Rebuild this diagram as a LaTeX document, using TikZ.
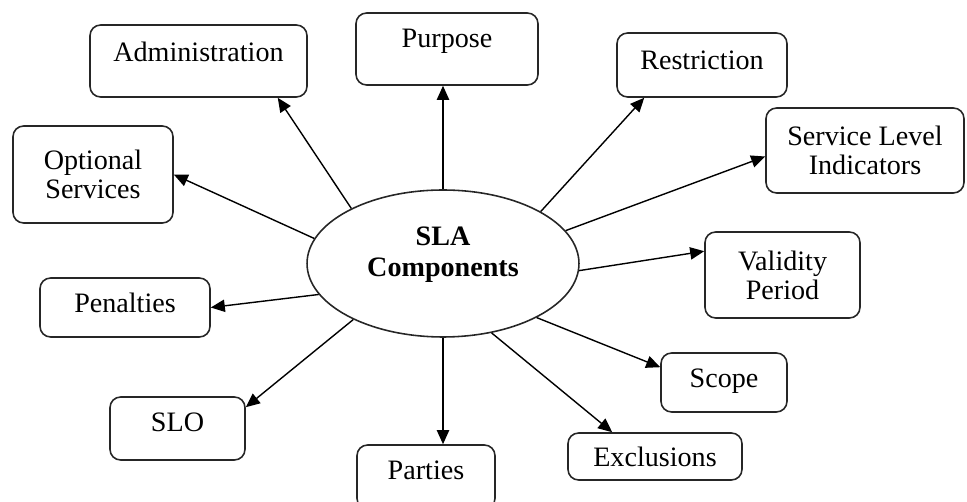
\documentclass[tikz,border=0pt]{standalone}
\usepackage{fontspec}
\setmainfont{Liberation Serif}
\usepackage{tikz}
\usetikzlibrary{arrows.meta,shapes.geometric}

\begin{document}
\begin{tikzpicture}[x=0.02cm, y=-0.02cm,
  font=\fontsize{16}{16.5}\selectfont,
  comp/.style={draw=black!85, line width=0.9pt, rounded corners=6pt, align=center, inner sep=0pt},
  lift/.style={text height=11pt, text depth=#1},
  link/.style={-{Triangle[length=8pt,width=7pt]}, line width=0.8pt}]
\clip (0,0) rectangle (967,502);
% centre of the star
\node[draw=black!85, line width=0.9pt, ellipse, minimum width=5.44cm, minimum height=2.94cm,
      inner sep=0pt, align=center, font=\fontsize{16}{17.6}\selectfont\bfseries,
      text height=26pt, text depth=10.8pt] (sla) at (443,263.5) {SLA\\Components};

% components, clockwise from top left
\node[comp, minimum width=4.34cm, minimum height=1.44cm, lift=10.6pt] (adm) at (198.5,61) {Administration};
\node[comp, minimum width=3.64cm, minimum height=1.44cm, lift=12.9pt] (pur) at (447,49) {Purpose};
\node[comp, minimum width=3.4cm, minimum height=1.28cm, lift=6.1pt] (res) at (702,65) {Restriction};
\node[comp, minimum width=3.96cm, minimum height=1.7cm] (sli) at (865,150.5) {Service Level\\Indicators};
\node[comp, minimum width=3.1cm, minimum height=1.72cm] (val) at (782.5,275) {Validity\\Period};
\node[comp, minimum width=2.52cm, minimum height=1.18cm, lift=5.5pt] (sco) at (724,382.5) {Scope};
\node[comp, minimum width=3.48cm, minimum height=0.94cm] (exc) at (655,456.5) {Exclusions};
\node[comp, minimum width=2.76cm, minimum height=1.28cm, lift=7.8pt] (par) at (426,477) {Parties};
\node[comp, minimum width=2.7cm, minimum height=1.26cm, lift=7.8pt] (slo) at (177.5,428.5) {SLO};
\node[comp, minimum width=3.4cm, minimum height=1.18cm, lift=5.5pt] (pen) at (125,307.5) {Penalties};
\node[comp, minimum width=3.2cm, minimum height=1.94cm] (opt) at (93,174.5) {Optional\\Services};

% arrows out of the ellipse
\draw[link] (sla.149) -- ([xshift=-0.6cm]adm.south east);
\draw[link] (sla.north) -- (sla.north |- pur.south);
\draw[link] (sla.28) -- ([xshift=0.56cm]res.south west);
\draw[link] (sla.15) -- ([yshift=-0.12cm]sli.west);
\draw[link] (sla.-3.5) -- ([yshift=-0.4cm]val.north west);
\draw[link] (sla.-30) -- ([yshift=-0.3cm]sco.north west);
\draw[link] (sla.-55) -- ([xshift=0.9cm]exc.north west);
\draw[link] (sla.south) -- (sla.south |- par.north);
\draw[link] (sla.212) -- ([yshift=-0.22cm]slo.north east);
\draw[link] (sla.194) -- (pen.east);
\draw[link] (sla.169) -- (opt.east);
\end{tikzpicture}
\end{document}
